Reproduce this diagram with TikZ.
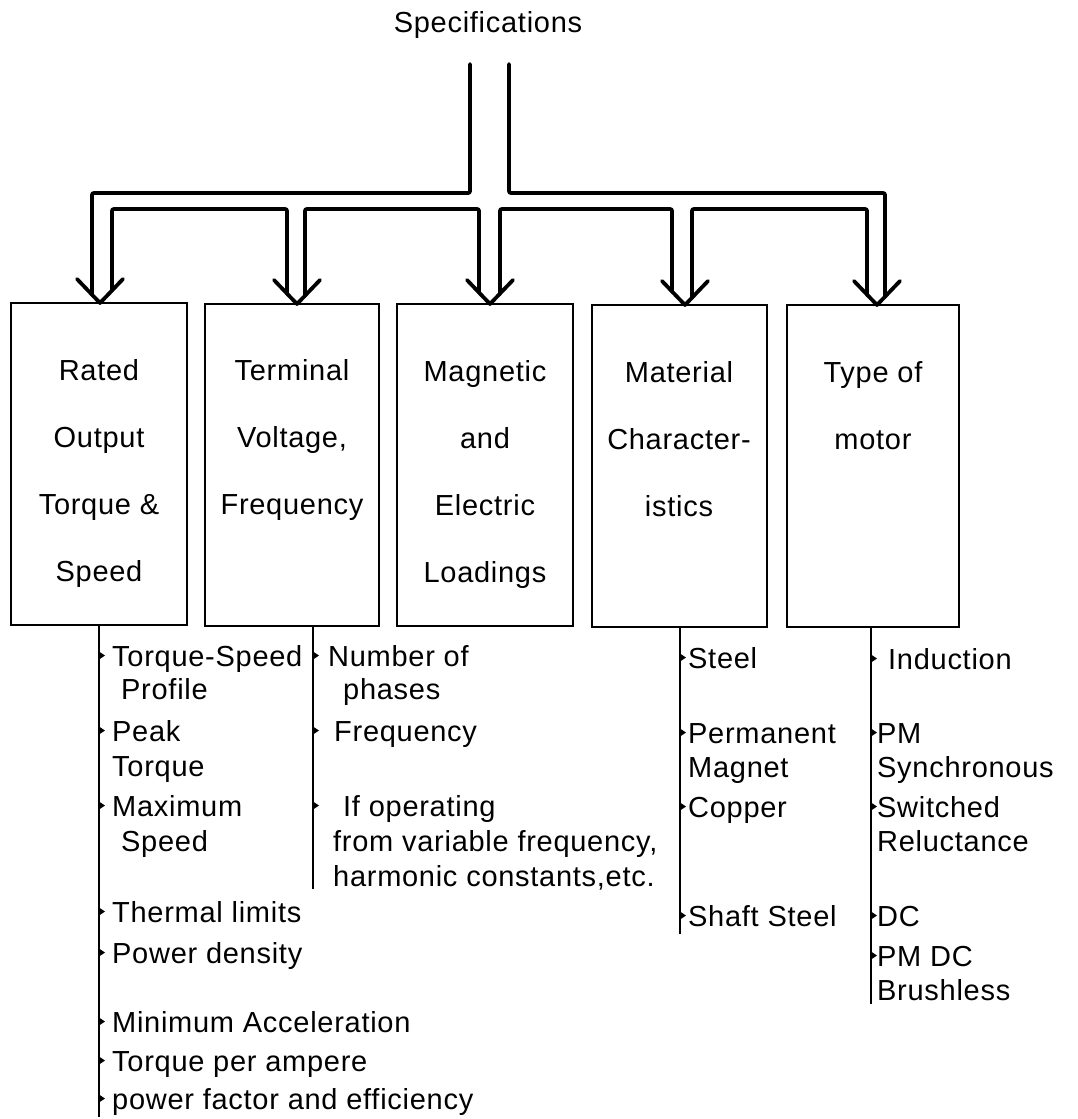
\documentclass[tikz,border=0pt]{standalone}
\usepackage{fontspec}
\setmainfont{Liberation Sans}[LetterSpace=2.5]
\usetikzlibrary{calc}
\newcommand{\lblfont}{\fontsize{29}{34}\selectfont}
\tikzset{
  box/.style={draw, line width=2.8pt, inner sep=0pt, minimum width=176pt, minimum height=322pt},
  chan/.style={line width=3.8pt, rounded corners=2pt, line cap=round},
  vhead/.style={line width=3.8pt, line cap=round, line join=round},
  stem/.style={line width=2.4pt},
  lbl/.style={anchor=base, inner sep=0pt, font=\lblfont},
  item/.style={anchor=base west, inner sep=0pt, font=\lblfont},
  dot/.style={fill=black}
}
% bullet mark on a stem: x of stem, baseline y
\newcommand{\stemmark}[2]{\fill[dot] (#1,#2-14.5) -- (#1+6,#2-10.5) -- (#1,#2-6.5) -- cycle;}
\begin{document}
\begin{tikzpicture}[x=1pt,y=-1pt]
\useasboundingbox (0,0) rectangle (1077,1119);

% title
\node[lbl] (spec) at (488,32) {Specifications};

% the five boxes
\node[box] (b1) at (99,464) {};
\node[box, minimum width=174pt] (b2) at (292,465) {};
\node[box] (b3) at (485,465) {};
\node[box, minimum width=175pt] (b4) at (679.5,466) {};
\node[box, minimum width=172pt] (b5) at (873,466) {};

% box labels
\foreach \t [count=\i] in {Rated,Output,Torque \&,Speed}
  {\node[lbl] (l1\i) at (99,313+67*\i) {\t};}
\foreach \t [count=\i] in {Terminal,{Voltage,},Frequency}
  {\node[lbl] (l2\i) at (292,313+67*\i) {\t};}
\foreach \t [count=\i] in {Magnetic,and,Electric,Loadings}
  {\node[lbl] (l3\i) at (485,314+67*\i) {\t};}
\foreach \t [count=\i] in {Material,Character-,istics}
  {\node[lbl] (l4\i) at (679,315+67*\i) {\t};}
\foreach \t [count=\i] in {Type of,motor}
  {\node[lbl] (l5\i) at (873,315+67*\i) {\t};}

% arrow tips on the box tops
\coordinate (a1) at (100,303);
\coordinate (a2) at (297,304);
\coordinate (a3) at (490,304);
\coordinate (a4) at (685,305);
\coordinate (a5) at (877,305);

% hollow branching channel from the specifications
\coordinate (cl) at (470,64);
\coordinate (cr) at (509,64);
\draw[chan] (cl) -- (470,193) -- (92,193) -- ($(a1)+(-8,-8)$);
\draw[chan] (cr) -- (509,193) -- (885,193) -- ($(a5)+(8,-8)$);
\draw[chan] ($(a1)+(12,-12)$) -- (112,209) -- (287,209) -- ($(a2)+(-10,-10)$);
\draw[chan] ($(a2)+(8,-8)$) -- (305,209) -- (479,209) -- ($(a3)+(-11,-11)$);
\draw[chan] ($(a3)+(10,-10)$) -- (500,209) -- (672,209) -- ($(a4)+(-13,-13)$);
\draw[chan] ($(a4)+(7,-7)$) -- (692,209) -- (867,209) -- ($(a5)+(-10,-10)$);
\foreach \k in {1,...,5}
  {\draw[vhead] ($(a\k)+(-23,-24)$) -- (a\k) -- ($(a\k)+(23,-24)$);}

% stems below the boxes
\coordinate (e1) at (99,1117);
\coordinate (e2) at (313,889);
\coordinate (e4) at (680,934);
\coordinate (e5) at (871,1004);
\draw[stem] (b1.south -| e1) -- (e1);
\draw[stem] (b2.south -| e2) -- (e2);
\draw[stem] (b4.south -| e4) -- (e4);
\draw[stem] (b5.south -| e5) -- (e5);

% list under box 1
\node[item] (i11) at (112,666) {Torque-Speed};
\node[item] (i12) at (121,699) {Profile};
\node[item] (i13) at (112,741) {Peak};
\node[item] (i14) at (112,776) {Torque};
\node[item] (i15) at (112,816) {Maximum};
\node[item] (i16) at (121,851) {Speed};
\node[item] (i17) at (112,922) {Thermal limits};
\node[item] (i18) at (112,963) {Power density};
\node[item] (i19) at (112,1032) {Minimum Acceleration};
\node[item] (i1a) at (112,1071) {Torque per ampere};
\node[item] (i1b) at (112,1109) {power factor and efficiency};
\foreach \y in {666,741,816,922,963,1032,1071,1109} {\stemmark{99}{\y}}

% list under box 2
\node[item] (i21) at (328,666) {Number of};
\node[item] (i22) at (343,699) {phases};
\node[item] (i23) at (334,741) {Frequency};
\node[item] (i24) at (343,816) {If operating};
\node[item] (i25) at (333,851) {from variable frequency,};
\node[item] (i26) at (333,886) {harmonic constants,etc.};
\foreach \y in {666,741,816} {\stemmark{313}{\y}}

% list under box 4
\node[item] (i41) at (688,668) {Steel};
\node[item] (i42) at (688,743) {Permanent};
\node[item] (i43) at (688,777) {Magnet};
\node[item] (i44) at (688,817) {Copper};
\node[item] (i45) at (688,926) {Shaft Steel};
\foreach \y in {668,743,817,926} {\stemmark{680}{\y}}

% list under box 5
\node[item] (i51) at (888,669) {Induction};
\node[item] (i52) at (877,743) {PM};
\node[item] (i53) at (877,777) {Synchronous};
\node[item] (i54) at (877,817) {Switched};
\node[item] (i55) at (877,851) {Reluctance};
\node[item] (i56) at (877,926) {DC};
\node[item] (i57) at (877,966) {PM DC};
\node[item] (i58) at (877,1000) {Brushless};
\foreach \y in {669,743,817,926,966} {\stemmark{871}{\y}}
\end{tikzpicture}
\end{document}
